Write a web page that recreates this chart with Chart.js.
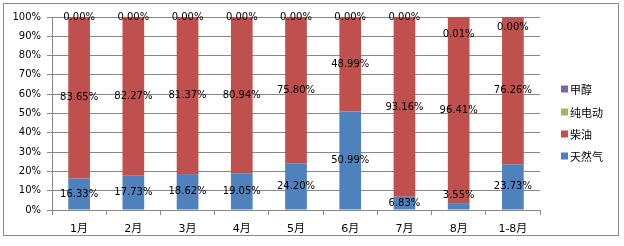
<!DOCTYPE html>
<html><head><meta charset="utf-8">
<script src="https://cdn.jsdelivr.net/npm/chart.js@4/dist/chart.umd.min.js"></script>
<style>html,body{margin:0;padding:0;background:#fff}#wrap{width:624px;height:246px}</style>
</head><body><div id="wrap"><canvas id="c" width="624" height="246"></canvas></div>
<script>
const categories = ['1月','2月','3月','4月','5月','6月','7月','8月','1-8月'];
const gasValues = [16.33,17.73,18.62,19.05,24.20,50.99,6.83,3.55,23.73];
const dieselValues = [83.65,82.27,81.37,80.94,75.80,48.99,93.16,96.41,76.26];
const electricValues = [0,0,0,0,0,0,0,0.01,0];
const methanolValues = [0,0,0,0,0,0,0,0,0];
const seriesNames = ['天然气','柴油','纯电动','甲醇'];
const yTicks = [0,10,20,30,40,50,60,70,80,90,100];

const colors = ['#4F81BD','#C0504D','#9BBB59','#8064A2'];
const numFont = '10px "DejaVu Sans", "Noto Sans CJK SC", sans-serif';
// label collision nudges (px), like the spreadsheet's own avoidance
const nudge = {0:{7:-11}, 2:{7:17, 8:10}};

const borderPlugin = {
  id:'border',
  beforeDraw(chart){
    const ctx=chart.ctx; ctx.save();
    ctx.fillStyle='#fff'; ctx.fillRect(0,0,chart.width,chart.height);
    ctx.strokeStyle='#8a8a8a'; ctx.lineWidth=1;
    ctx.strokeRect(3.5,3.5,615,232);
    ctx.restore();
  }
};
const labelPlugin = {
  id:'vlabels',
  afterDatasetsDraw(chart){
    const ctx=chart.ctx; ctx.save();
    ctx.font=numFont; ctx.fillStyle='#000'; ctx.textAlign='center'; ctx.textBaseline='middle';
    [0,1,2].forEach(di=>{
      const meta=chart.getDatasetMeta(di);
      const vals=chart.data.datasets[di].data;
      meta.data.forEach((el,i)=>{
        const y=(el.y+el.base)/2 + ((nudge[di]&&nudge[di][i])||0);
        ctx.fillText(vals[i].toFixed(2)+'%', el.x, y);
      });
    });
    ctx.restore();
  }
};
const legendPlugin = {
  id:'mylegend',
  afterDraw(chart){
    const ctx=chart.ctx; ctx.save();
    ctx.font='11px "Noto Sans CJK SC", sans-serif'; ctx.textBaseline='middle'; ctx.fillStyle='#000';
    const ys=[89,112,134,156];
    const order=[3,2,1,0];
    order.forEach((di,k)=>{
      ctx.fillStyle=colors[di]; ctx.fillRect(561,ys[k]-3.5,7,7);
      ctx.fillStyle='#000'; ctx.fillText(seriesNames[di],570,ys[k]+0.5);
    });
    ctx.restore();
  }
};

const valueSets=[gasValues,dieselValues,electricValues,methanolValues];
new Chart(document.getElementById('c'),{
  type:'bar',
  data:{labels:categories,datasets:valueSets.map((v,i)=>({label:seriesNames[i],data:v,backgroundColor:colors[i],barPercentage:0.4,categoryPercentage:1,borderWidth:0}))},
  options:{
    responsive:false,animation:false,devicePixelRatio:1,
    layout:{padding:{left:0,top:17,right:84,bottom:0}},
    plugins:{legend:{display:false},tooltip:{enabled:false}},
    scales:{
      x:{stacked:true,afterFit(s){s.height=36;},
        grid:{drawOnChartArea:false,color:'#888',tickLength:5,offset:true},
        border:{color:'#888'},
        ticks:{color:'#000',font:{family:'"DejaVu Sans", "Noto Sans CJK SC", sans-serif',size:11},padding:8,maxRotation:0}},
      y:{stacked:true,min:0,max:100,afterFit(s){s.width=52;},
        afterBuildTicks(s){s.ticks=yTicks.map(v=>({value:v}));},
        grid:{color:'#888',tickLength:5},
        border:{color:'#888'},
        ticks:{color:'#000',font:{family:'"DejaVu Sans", sans-serif',size:10},padding:6,callback:v=>v+'%'}}
    }
  },
  plugins:[borderPlugin,labelPlugin,legendPlugin]
});
</script></body></html>
